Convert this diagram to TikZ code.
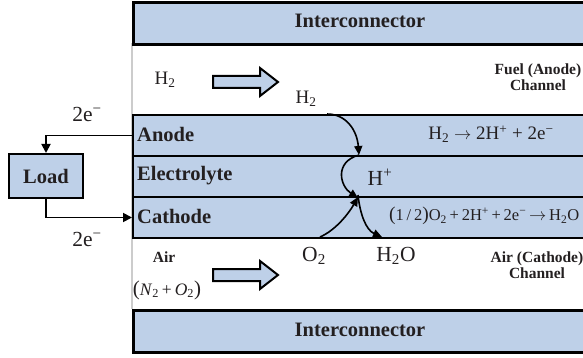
\documentclass[tikz,border=0pt]{standalone}
\usepackage{fontspec}
\setmainfont{Liberation Serif}
\usetikzlibrary{arrows.meta}
\definecolor{cellblue}{RGB}{190,208,232}
\definecolor{ink}{RGB}{35,31,32}
\newcommand\lo[1]{\textsubscript{#1}}
\newcommand\hi[1]{\textsuperscript{#1}}
\begin{document}
\begin{tikzpicture}[x=1pt,y=-1pt,
  layer/.style={draw=black, line width=2pt, fill=cellblue, minimum height=41pt, minimum width=462pt, anchor=north west, inner sep=0pt},
  inter/.style={layer, line width=2.6pt, minimum height=42pt},
  boldbig/.style={font=\fontsize{20.5}{22}\selectfont\bfseries, text=ink, inner sep=0pt},
  boldsmall/.style={font=\fontsize{15.5}{15.5}\selectfont\bfseries, text=ink, inner sep=0pt, align=center},
  chem/.style={font=\fontsize{19}{20}\selectfont, text=ink, inner sep=0pt},
  chembig/.style={font=\fontsize{21.5}{22}\selectfont, text=ink, inner sep=0pt},
  chemsmall/.style={font=\fontsize{16.5}{18}\selectfont, text=ink, inner sep=0pt},
  arr/.style={line width=1.6pt, -{Triangle[length=9pt,width=8pt]}},
  wire/.style={line width=1.8pt, -{Triangle[length=9pt,width=9pt]}},
  blockarrow/.style={draw=black, line width=2pt, fill=cellblue, line join=miter}]
\useasboundingbox (0,0) rectangle (583,358);
% channel left border
\draw[black!20, line width=1.2pt] (132,43) -- (132,309);
% layers
\node[inter] (topic) at (132,1.5) {};
\node[layer] (anode) at (132,114) {};
\node[layer] (elec) at (132,155) {};
\node[layer] (cath) at (132,196) {};
\node[inter] (botic) at (132,309) {};
\node[boldbig] (topicl) at (360,21) {Interconnector};
\node[boldbig] (boticl) at (360,330) {Interconnector};
\node[boldbig, anchor=west] (anodel) at (137,134) {Anode};
\node[boldbig, anchor=west] (elecl) at (137,176) {Electrolyte};
\node[boldbig, anchor=west] (cathl) at (137,216) {Cathode};
% load
\node[draw=black, line width=2pt, fill=cellblue, minimum width=74pt, minimum height=44pt, inner sep=0pt] (load) at (46,176) {};
\node[boldbig] (loadl) at (46,176) {Load};
\draw[wire] (anode.west) -| (load.north);
\draw[wire] (load.south) |- (cath.west);
\node[chembig] (e1) at (87,114) {2e\hi{−}};
\node[chembig] (e2) at (87,239) {2e\hi{−}};
% block arrows
\draw[blockarrow] (213,76) -- (260,76) -- (260,68) -- (278,82) -- (260,96) -- (260,88) -- (213,88) -- cycle;
\draw[blockarrow] (213,269) -- (260,269) -- (260,261) -- (278,275) -- (260,289) -- (260,281) -- (213,281) -- cycle;
% channel texts
\node[chem] (h2a) at (165,80) {H\lo{2}};
\node[chem] (h2b) at (306,99) {H\lo{2}};
\node[boldsmall] (fuel) at (538,77) {Fuel (Anode)\\Channel};
\node[boldsmall] (airch) at (537,265) {Air (Cathode)\\Channel};
\node[boldsmall] (air) at (164,257) {Air};
\node[chemsmall] (n2o2) at (167,290) {\fontsize{21}{21}\selectfont(\fontsize{17.5}{18}\selectfont\textit{N}\lo{2}\,+\,\textit{O}\lo{2}\fontsize{21}{21}\selectfont)};
\node[chembig] (o2) at (314,256) {O\lo{2}};
\node[chembig] (h2o) at (396,256) {H\lo{2}O};
% reactions
\node[chem] (reacta) at (491,134) {H\lo{2} $\rightarrow$ 2H\hi{+} + 2e\hi{−}};
\node[chembig] (hplus) at (380,177) {H\hi{+}};
\node[chemsmall, anchor=west] (reactc) at (389,216) {\fontsize{19.5}{20}\selectfont(\fontsize{16.5}{18}\selectfont1\,/\,2\fontsize{19.5}{20}\selectfont)\fontsize{16.5}{18}\selectfont O\lo{2}\,+\,2H\hi{+}\,+\,2e\hi{−}\,$\rightarrow$\,H\lo{2}O};
% ion paths
\coordinate (pA) at (327,114);
\coordinate (pB) at (359,155);
\coordinate (pC) at (358,196);
\coordinate (pD) at (320,237);
\coordinate (pE) at (382,237);
\draw[arr] (pA) .. controls (346,114) and (357,130) .. (pB);
\draw[arr] (pB) .. controls (334,162) and (340,186) .. ([yshift=-2pt]pC);
\draw[arr] (pD) .. controls (336,230) and (349,213) .. ([shift={(0,1)}]pC);
\draw[arr] ([yshift=1pt]pC) .. controls (360,214) and (366,230) .. (pE);
\end{tikzpicture}
\end{document}
